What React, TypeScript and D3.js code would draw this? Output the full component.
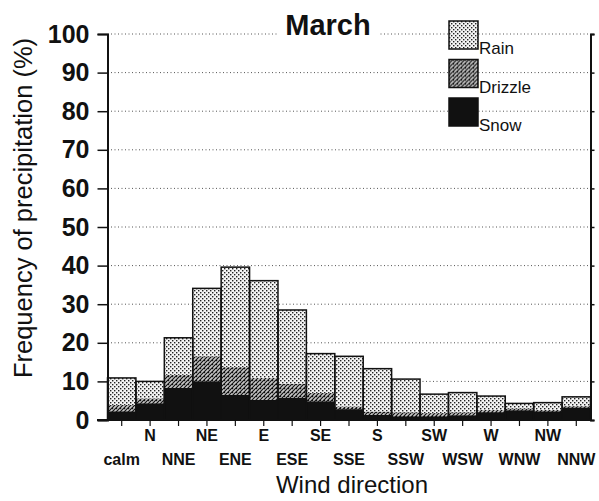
import { useEffect, useRef } from 'react';
import * as d3 from 'd3';

// wind direction categories (calm + 16 compass points)
const directions = ['calm', 'N', 'NNE', 'NE', 'ENE', 'E', 'ESE', 'SE', 'SSE', 'S', 'SSW', 'SW', 'WSW', 'W', 'WNW', 'NW', 'NNW'];

// frequency of precipitation (%) per type
const snow = [2.2, 4.3, 8.3, 10.0, 6.5, 5.2, 5.7, 4.8, 2.8, 1.3, 0.9, 0.9, 1.2, 2.0, 2.5, 2.2, 3.2];
const drizzle = [1.7, 1.3, 3.4, 6.5, 7.2, 5.7, 3.7, 2.2, 0.7, 0.9, 1.1, 0.9, 0.8, 0.6, 0.5, 0.4, 0.4];
const rain = [7.0, 4.4, 9.6, 17.6, 25.9, 25.2, 19.1, 10.2, 13.0, 11.1, 8.6, 4.9, 5.1, 3.6, 1.3, 1.9, 2.4];

const yTicks = [0, 10, 20, 30, 40, 50, 60, 70, 80, 90, 100];
const seriesKeys = ['snow', 'drizzle', 'rain'];
const legendItems = [
  { key: 'rain', label: 'Rain' },
  { key: 'drizzle', label: 'Drizzle' },
  { key: 'snow', label: 'Snow' },
];

export default function App() {
  const ref = useRef<SVGSVGElement>(null);

  useEffect(() => {
    if (!ref.current) return;
    const svg = d3.select(ref.current);
    svg.selectAll('*').remove();

    const left = 107.5;
    const right = 590.5;
    const top = 34;
    const bottom = 420;
    const font = 'Arial, "Liberation Sans", Helvetica, sans-serif';
    const narrow = '"Liberation Sans Narrow", "Arial Narrow", Arial, sans-serif';

    // fill patterns (stipple for rain, hatch + dots for drizzle)
    const defs = svg.append('defs');
    const pRain = defs.append('pattern').attr('id', 'rain').attr('patternUnits', 'userSpaceOnUse')
      .attr('width', 4).attr('height', 4);
    pRain.append('rect').attr('width', 4).attr('height', 4).attr('fill', '#f4f4f4');
    pRain.append('rect').attr('x', 0).attr('y', 0).attr('width', 1.4).attr('height', 1.4).attr('fill', '#222');
    pRain.append('rect').attr('x', 2).attr('y', 2).attr('width', 1.4).attr('height', 1.4).attr('fill', '#222');

    const pDrz = defs.append('pattern').attr('id', 'drizzle').attr('patternUnits', 'userSpaceOnUse')
      .attr('width', 4).attr('height', 4);
    pDrz.append('rect').attr('width', 4).attr('height', 4).attr('fill', '#c8c8c8');
    pDrz.append('path').attr('d', 'M0,4 L4,0 M-1,1 L1,-1 M3,5 L5,3').attr('stroke', '#111').attr('stroke-width', 1.2);
    pDrz.append('rect').attr('x', 0).attr('y', 0).attr('width', 1.2).attr('height', 1.2).attr('fill', '#111');

    const fills: Record<string, string> = { rain: 'url(#rain)', drizzle: 'url(#drizzle)', snow: '#111' };

    const x = d3.scaleBand<string>().domain(directions).range([left, right]).padding(0);
    const y = d3.scaleLinear().domain([0, 100]).range([bottom, top]);

    // dotted grid lines
    svg.append('g')
      .selectAll('line')
      .data(yTicks.filter((t) => t > 0))
      .join('line')
      .attr('x1', left)
      .attr('x2', right)
      .attr('y1', (d) => y(d))
      .attr('y2', (d) => y(d))
      .attr('stroke', '#555')
      .attr('stroke-width', 1)
      .attr('stroke-dasharray', '1,2.5');

    // stacked bars
    const rows = directions.map((d, i) => ({ dir: d, snow: snow[i], drizzle: drizzle[i], rain: rain[i] }));
    const stack = d3.stack<any>().keys(seriesKeys)(rows);
    const bars = svg.append('g');
    stack.forEach((layer) => {
      bars.append('g')
        .selectAll('rect')
        .data(layer)
        .join('rect')
        .attr('x', (d: any) => x(d.data.dir)!)
        .attr('width', x.bandwidth())
        .attr('y', (d: any) => y(d[1]))
        .attr('height', (d: any) => y(d[0]) - y(d[1]))
        .attr('fill', fills[layer.key])
        .attr('stroke', layer.key === 'snow' ? '#111' : 'none');
    });
    // outlines of full bars
    bars.append('g')
      .selectAll('rect')
      .data(rows)
      .join('rect')
      .attr('x', (d) => x(d.dir)!)
      .attr('width', x.bandwidth())
      .attr('y', (d) => y(d.snow + d.drizzle + d.rain))
      .attr('height', (d) => bottom - y(d.snow + d.drizzle + d.rain))
      .attr('fill', 'none')
      .attr('stroke', '#111')
      .attr('stroke-width', 1.5);

    // left axis
    const yAxis = svg.append('g').attr('transform', `translate(${left},0)`)
      .call(d3.axisLeft(y).tickValues(yTicks).tickSize(10).tickPadding(8).tickFormat((d) => `${d}`));
    yAxis.select('.domain').attr('stroke', '#111').attr('stroke-width', 2);
    yAxis.selectAll('line').attr('stroke', '#111').attr('stroke-width', 1.5);
    yAxis.selectAll('text')
      .attr('font-family', font)
      .attr('font-size', 25)
      .attr('font-weight', 'bold')
      .attr('fill', '#111');

    // right axis
    const yAxisR = svg.append('g').attr('transform', `translate(${right},0)`)
      .call(d3.axisRight(y).tickValues(yTicks).tickSize(4).tickFormat(() => ''));
    yAxisR.select('.domain').attr('stroke', '#111').attr('stroke-width', 2);
    yAxisR.selectAll('line').attr('stroke', '#111').attr('stroke-width', 1.5);

    // bottom axis line
    svg.append('line').attr('x1', 97).attr('x2', right + 1).attr('y1', bottom).attr('y2', bottom)
      .attr('stroke', '#111').attr('stroke-width', 2);

    const xAxis = svg.append('g').attr('transform', `translate(0,${bottom})`)
      .call(d3.axisBottom(x).tickSize(6).tickFormat(() => ''));
    xAxis.select('.domain').remove();
    xAxis.selectAll('line').attr('stroke', '#111').attr('stroke-width', 1.2);

    // category labels on two rows
    svg.append('g')
      .selectAll('text')
      .data(directions)
      .join('text')
      .attr('x', (d) => x(d)! + x.bandwidth() / 2)
      .attr('y', (_, i) => (i % 2 === 1 ? 441 : 465))
      .attr('text-anchor', 'middle')
      .attr('font-family', narrow)
      .attr('font-size', 16)
      .attr('font-weight', 'bold')
      .attr('fill', '#111')
      .text((d) => d);

    // axis titles
    svg.append('text')
      .attr('x', 352)
      .attr('y', 493)
      .attr('text-anchor', 'middle')
      .attr('font-family', font)
      .attr('font-size', 24)
      .attr('fill', '#111')
      .text('Wind direction');

    svg.append('text')
      .attr('transform', 'translate(32,208) rotate(-90)')
      .attr('text-anchor', 'middle')
      .attr('font-family', font)
      .attr('font-size', 25.5)
      .attr('fill', '#111')
      .text('Frequency of precipitation (%)');

    // title with white backing over the top grid line
    svg.append('rect').attr('x', 278).attr('y', 8).attr('width', 100).attr('height', 32).attr('fill', '#fff');
    svg.append('text')
      .attr('x', 328)
      .attr('y', 35)
      .attr('text-anchor', 'middle')
      .attr('font-family', font)
      .attr('font-size', 29)
      .attr('font-weight', 'bold')
      .attr('fill', '#111')
      .text('March');

    // legend
    const lg = svg.append('g').attr('transform', 'translate(449,21)');
    legendItems.forEach((item, i) => {
      const g = lg.append('g').attr('transform', `translate(0,${i * 38.5})`);
      g.append('rect').attr('x', 0).attr('y', 0).attr('width', 29).attr('height', 28)
        .attr('fill', fills[item.key]).attr('stroke', '#111').attr('stroke-width', 1.5);
      g.append('rect').attr('x', 30).attr('y', 17).attr('width', item.label.length * 9.5).attr('height', 17).attr('fill', '#fff');
      g.append('text')
        .attr('x', 30)
        .attr('y', 33)
        .attr('font-family', font)
        .attr('font-size', 17)
        .attr('fill', '#111')
        .text(item.label);
    });
  }, []);

  return (
    <svg
      ref={ref}
      width={599}
      height={501}
      style={{ position: 'absolute', left: 0, top: 0, background: '#fff' }}
    />
  );
}
